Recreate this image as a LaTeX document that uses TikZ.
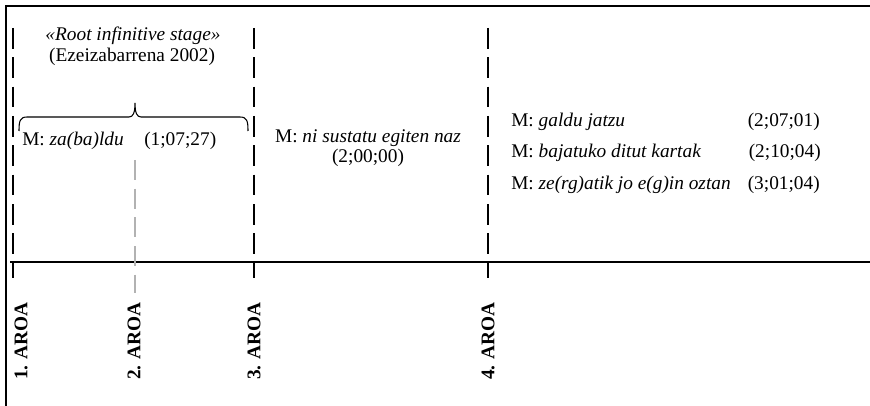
\documentclass[tikz,border=0pt]{standalone}
\usepackage{fontspec}
\setmainfont{Liberation Serif}
\begin{document}
\begin{tikzpicture}[x=0.75pt,y=-0.75pt,
  txt/.style={inner sep=0pt,font=\fontsize{14.5}{17}\selectfont},
  aroa/.style={txt,font=\fontsize{14.5}{17}\selectfont\bfseries,rotate=90},
  stage/.style={line width=2.2pt,dash pattern=on 15.5pt off 6.5pt},
  graystage/.style={line width=2.2pt,black!30,dash pattern=on 15pt off 6.5pt},
  frame/.style={line width=1.1pt},
  axis/.style={line width=0.8pt}]
\useasboundingbox (0,0) rectangle (870,406);
% frame
\coordinate (fl) at (6,406);
\coordinate (fc) at (6,6);
\coordinate (fr) at (870,6);
\draw[frame] (fl) -- (fc) -- (fr);
% time axis
\coordinate (al) at (10,262);
\coordinate (ar) at (870,262);
\draw[axis] (al) -- (ar);
% stage separators
\coordinate (s1t) at (13,28);  \coordinate (s1b) at (13,278);
\coordinate (s2t) at (135,160); \coordinate (s2b) at (135,293);
\coordinate (s3t) at (254,28); \coordinate (s3b) at (254,278);
\coordinate (s4t) at (488,28); \coordinate (s4b) at (488,278);
\draw[stage] (s1t) -- (s1b);
\draw[graystage] (s2t) -- (s2b);
\draw[stage] (s3t) -- (s3b);
\draw[stage] (s4t) -- (s4b);
% brace
\coordinate (bl) at (19,131);
\coordinate (br) at (248,131);
\coordinate (bt) at (135,103);
\draw[line width=0.8pt] (bl) .. controls (19,121) and (20,117) .. (27,117)
  -- (129,117) .. controls (133,117) and (135,113) .. (bt)
  .. controls (135,113) and (137,117) .. (141,117)
  -- (240,117) .. controls (247,117) and (248,121) .. (br);
% texts
\node[txt] (rit) at (133,36) {\itshape «Root infinitive stage»};
\node[txt] (eze) at (132,57) {(Ezeizabarrena 2002)};
\node[txt,anchor=west] (m1) at (22,141) {M: \textit{za(ba)ldu}};
\node[txt,anchor=west] (d1) at (144,141) {(1;07;27)};
\node[txt] (m2) at (368,138) {M: \textit{ni sustatu egiten naz}};
\node[txt] (d2) at (368,158) {(2;00;00)};
\node[txt,anchor=west] (m3) at (511,122) {M: \textit{galdu jatzu}};
\node[txt,anchor=east] (d3) at (820,122) {(2;07;01)};
\node[txt,anchor=west] (m4) at (511,153) {M: \textit{bajatuko ditut kartak}};
\node[txt,anchor=east] (d4) at (821,153) {(2;10;04)};
\node[txt,anchor=west] (m5) at (511,185) {M: \textit{ze(rg)atik jo e(g)in oztan}};
\node[txt,anchor=east] (d5) at (820,185) {(3;01;04)};
% stage labels
\node[aroa] (a1) at (21,341) {1. AROA};
\node[aroa] (a2) at (134,341) {2. AROA};
\node[aroa] (a3) at (254,341) {3. AROA};
\node[aroa] (a4) at (488,341) {4. AROA};
\end{tikzpicture}
\end{document}
